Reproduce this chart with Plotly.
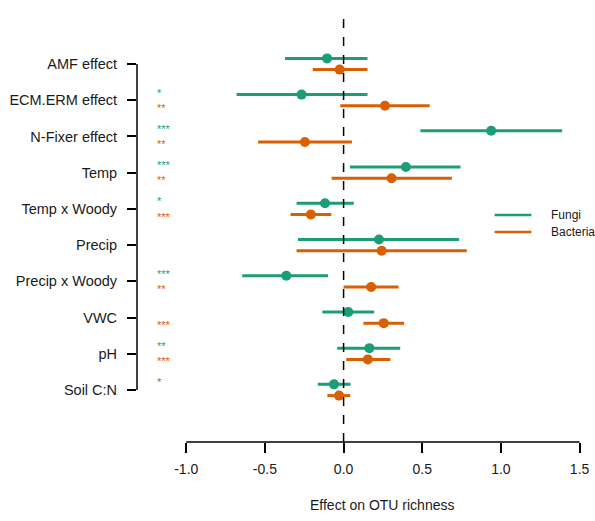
import plotly.graph_objects as go

# Predictors, top to bottom
predictors = ["AMF effect", "ECM.ERM effect", "N-Fixer effect", "Temp", "Temp x Woody",
              "Precip", "Precip x Woody", "VWC", "pH", "Soil C:N"]

# Fungi: estimate and interval
fungi_est = [-0.105, -0.267, 0.938, 0.396, -0.118, 0.225, -0.364, 0.030, 0.164, -0.061]
fungi_lo = [-0.372, -0.680, 0.488, 0.040, -0.299, -0.290, -0.644, -0.135, -0.040, -0.164]
fungi_hi = [0.152, 0.152, 1.389, 0.743, 0.065, 0.734, -0.099, 0.194, 0.360, 0.044]

# Bacteria: estimate and interval
bact_est = [-0.025, 0.263, -0.246, 0.305, -0.208, 0.242, 0.175, 0.255, 0.154, -0.029]
bact_lo = [-0.196, -0.021, -0.543, -0.076, -0.337, -0.299, 0.000, 0.126, 0.017, -0.103]
bact_hi = [0.152, 0.547, 0.053, 0.688, -0.078, 0.783, 0.349, 0.385, 0.297, 0.042]

# Significance codes
fungi_sig = ["", "*", "***", "***", "*", "", "***", "", "**", "*"]
bact_sig = ["", "**", "**", "**", "***", "", "**", "***", "***", ""]

x_ticks = [-1.0, -0.5, 0.0, 0.5, 1.0, 1.5]

FUNGI = "#1B9E77"
BACT = "#D95F02"
FONT = "Liberation Sans, Arial, sans-serif"
INK = "#1a1a1a"

n = len(predictors)
ypos = [n - i for i in range(n)]
off = 0.155
y_f = [y + off for y in ypos]
y_b = [y - off for y in ypos]

fig = go.Figure()


def add_series(est, lo, hi, yy, color, name):
    fig.add_trace(go.Scatter(
        x=est, y=yy, mode="markers", name=name, showlegend=False,
        marker=dict(color=color, size=10, symbol="circle"),
        error_x=dict(type="data", symmetric=False,
                     array=[h - e for h, e in zip(hi, est)],
                     arrayminus=[e - l for e, l in zip(est, lo)],
                     color=color, thickness=3, width=0),
    ))


add_series(fungi_est, fungi_lo, fungi_hi, y_f, FUNGI, "Fungi")
add_series(bact_est, bact_lo, bact_hi, y_b, BACT, "Bacteria")

# zero reference line
fig.add_shape(type="line", xref="x", yref="paper", x0=0, x1=0, y0=0, y1=1,
              line=dict(color="black", width=1.5, dash="dash"))
# axis lines spanning first to last tick
fig.add_shape(type="line", xref="x", yref="paper", x0=x_ticks[0], x1=x_ticks[-1], y0=0, y1=0,
              line=dict(color="black", width=1.5))
fig.add_shape(type="line", xref="paper", yref="y", x0=0, x1=0, y0=min(ypos), y1=max(ypos),
              line=dict(color="black", width=1.5))

# significance stars: fungi just above the row centre, bacteria just below
for yc, sf, sb in zip(ypos, fungi_sig, bact_sig):
    if sf:
        fig.add_annotation(x=-1.19, y=yc + 0.02, xref="x", yref="y", text=sf, showarrow=False,
                           xanchor="left", yanchor="bottom", borderpad=0,
                           font=dict(family=FONT, size=11, color=FUNGI))
    if sb:
        fig.add_annotation(x=-1.19, y=yc - 0.02, xref="x", yref="y", text=sb, showarrow=False,
                           xanchor="left", yanchor="top", borderpad=0,
                           font=dict(family=FONT, size=11, color=BACT))

# legend
legend_items = [("Fungi", FUNGI, 0.529), ("Bacteria", BACT, 0.4895)]
for label, color, yp in legend_items:
    fig.add_shape(type="line", xref="paper", yref="paper", x0=0.7947, x1=0.8764, y0=yp, y1=yp,
                  line=dict(color=color, width=2.5))
    fig.add_annotation(x=0.9161, y=yp, xref="paper", yref="paper", text=label, showarrow=False,
                       xanchor="left", yanchor="middle",
                       font=dict(family=FONT, size=12, color=INK))

# x axis title
fig.add_annotation(x=0.246, y=-0.147, xref="x", yref="paper", text="Effect on OTU richness",
                   showarrow=False, xanchor="center", yanchor="middle",
                   font=dict(family=FONT, size=14, color=INK))

fig.update_layout(
    width=595, height=521,
    margin=dict(l=137, r=5, t=13, b=79),
    plot_bgcolor="white", paper_bgcolor="white",
    font=dict(family=FONT, color=INK),
    showlegend=False,
    xaxis=dict(range=[-1.313, 1.547], tickvals=x_ticks,
               ticktext=[f"{v:.1f}" for v in x_ticks],
               showgrid=False, zeroline=False, showline=False,
               ticks="outside", ticklen=10, tickwidth=1.5, tickcolor="black",
               ticklabelstandoff=4,
               tickfont=dict(family=FONT, size=14, color=INK)),
    yaxis=dict(range=[-0.436, 11.408], tickvals=ypos, ticktext=predictors,
               showgrid=False, zeroline=False, showline=False,
               ticks="outside", ticklen=9, tickwidth=1.5, tickcolor="black",
               ticklabelstandoff=7,
               tickfont=dict(family=FONT, size=14.5, color=INK)),
)

fig.write_html("out.html")
